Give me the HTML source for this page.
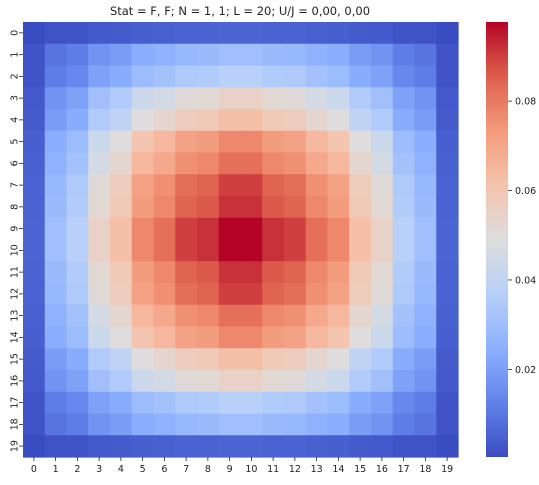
<!DOCTYPE html>
<html><head><meta charset="utf-8"><style>
body{margin:0;background:#fff;width:539px;height:480px;overflow:hidden}
svg text{font-family:"DejaVu Sans","Liberation Sans",sans-serif;fill:#222}
</style></head><body>
<svg id="chart" width="539" height="480" xmlns="http://www.w3.org/2000/svg">
<text x="240" y="15" font-size="11.5" text-anchor="middle">Stat = F, F; N = 1, 1; L = 20; U/J = 0,00, 0,00</text>
<g id="cells"></g>
<g id="xt"></g>
<g id="yt"></g>
<g id="cb"></g>
</svg>
<script>
const rowLabels=[0,1,2,3,4,5,6,7,8,9,10,11,12,13,14,15,16,17,18,19];
const colLabels=[0,1,2,3,4,5,6,7,8,9,10,11,12,13,14,15,16,17,18,19];
const cbTicks=[0.02,0.04,0.06,0.08];
const cbTickLabels=["0.02","0.04","0.06","0.08"];
const q0=[0.0004,0.0018,0.0022,0.0033,0.0038,0.0046,0.0049,0.0054,0.0055,0.0059];
const q1=[0.0018,0.0094,0.0115,0.0170,0.0194,0.0239,0.0255,0.0279,0.0285,0.0303];
const q2=[0.0022,0.0115,0.0141,0.0208,0.0237,0.0293,0.0312,0.0341,0.0349,0.0371];
const q3=[0.0033,0.0170,0.0208,0.0306,0.0350,0.0432,0.0459,0.0503,0.0514,0.0547];
const q4=[0.0038,0.0194,0.0237,0.0350,0.0400,0.0494,0.0525,0.0575,0.0588,0.0625];
const q5=[0.0046,0.0239,0.0293,0.0432,0.0494,0.0610,0.0648,0.0710,0.0726,0.0772];
const q6=[0.0049,0.0255,0.0312,0.0459,0.0525,0.0648,0.0690,0.0755,0.0772,0.0821];
const q7=[0.0054,0.0279,0.0341,0.0503,0.0575,0.0710,0.0755,0.0827,0.0845,0.0899];
const q8=[0.0055,0.0285,0.0349,0.0514,0.0588,0.0726,0.0772,0.0845,0.0863,0.0918];
const q9=[0.0059,0.0303,0.0371,0.0547,0.0625,0.0772,0.0821,0.0899,0.0918,0.0977];
const quadRows=[q0,q1,q2,q3,q4,q5,q6,q7,q8,q9];
const matrix=[];
for(const r of quadRows) matrix.push(r.concat(r.slice().reverse()));
for(let i=9;i>=0;i--) matrix.push(matrix[i].slice());

const NS="http://www.w3.org/2000/svg";
const X0=23,Y0=22,W=435,H=435;
const cw=W/colLabels.length, ch=H/rowLabels.length;
let vmin=Infinity,vmax=-Infinity;
matrix.forEach(r=>r.forEach(v=>{vmin=Math.min(vmin,v);vmax=Math.max(vmax,v);}));
const stops=[[0,[58,76,193]],[0.125,[98,130,234]],[0.25,[141,176,254]],[0.375,[184,208,249]],[0.5,[221,221,221]],[0.625,[245,196,173]],[0.75,[244,154,123]],[0.875,[222,96,77]],[1,[180,4,38]]];
function cmap(t){t=Math.max(0,Math.min(1,t));for(let i=1;i<stops.length;i++){if(t<=stops[i][0]){const a=stops[i-1],b=stops[i];const f=(t-a[0])/(b[0]-a[0]);return 'rgb('+a[1].map((c,k)=>Math.round(c+(b[1][k]-c)*f)).join(',')+')';}}return 'rgb(180,4,38)';}
const norm=v=>(v-vmin)/(vmax-vmin);
function mk(tag,attrs,parent){const e=document.createElementNS(NS,tag);for(const k in attrs)e.setAttribute(k,attrs[k]);parent.appendChild(e);return e;}
const cells=document.getElementById('cells');
matrix.forEach((row,i)=>row.forEach((v,j)=>{
 const r=mk('rect',{x:X0+j*cw,y:Y0+i*ch,width:cw+0.6,height:ch+0.6,fill:cmap(norm(v))},cells);
 
 
}));
const xt=document.getElementById('xt');
colLabels.forEach((l,j)=>{const x=X0+(j+0.5)*cw;
 mk('line',{x1:x,y1:Y0+H,x2:x,y2:Y0+H+4,stroke:'#222','stroke-width':0.8},xt);
 const t=mk('text',{x:x,y:Y0+H+15,'font-size':9.5,'text-anchor':'middle'},xt);t.textContent=l;
 
 
});
const yt=document.getElementById('yt');
rowLabels.forEach((l,i)=>{const y=Y0+(i+0.5)*ch;
 mk('line',{x1:X0-4,y1:y,x2:X0,y2:y,stroke:'#222','stroke-width':0.8},yt);
 const t=mk('text',{x:X0-8,y:y,'font-size':9.5,'text-anchor':'middle','dominant-baseline':'middle',transform:`rotate(-90 ${X0-8} ${y})`},yt);t.textContent=l;
 
 
});
const cb=document.getElementById('cb');
const CX=486,CW=22;
const defs=mk('defs',{},cb);const lg=mk('linearGradient',{id:'g',x1:0,y1:1,x2:0,y2:0},defs);
for(let k=0;k<=20;k++)mk('stop',{offset:k/20,'stop-color':cmap(k/20)},lg);
const bar=mk('rect',{x:CX,y:Y0,width:CW,height:H,fill:'url(#g)'},cb);


cbTicks.forEach((v,k)=>{const y=Y0+H-norm(v)*H;
 mk('line',{x1:CX+CW,y1:y,x2:CX+CW+4,y2:y,stroke:'#222','stroke-width':0.8},cb);
 const t=mk('text',{x:CX+CW+7,y:y+3.5,'font-size':9.5},cb);t.textContent=cbTickLabels[k];
 
 
});
</script>
</body></html>
